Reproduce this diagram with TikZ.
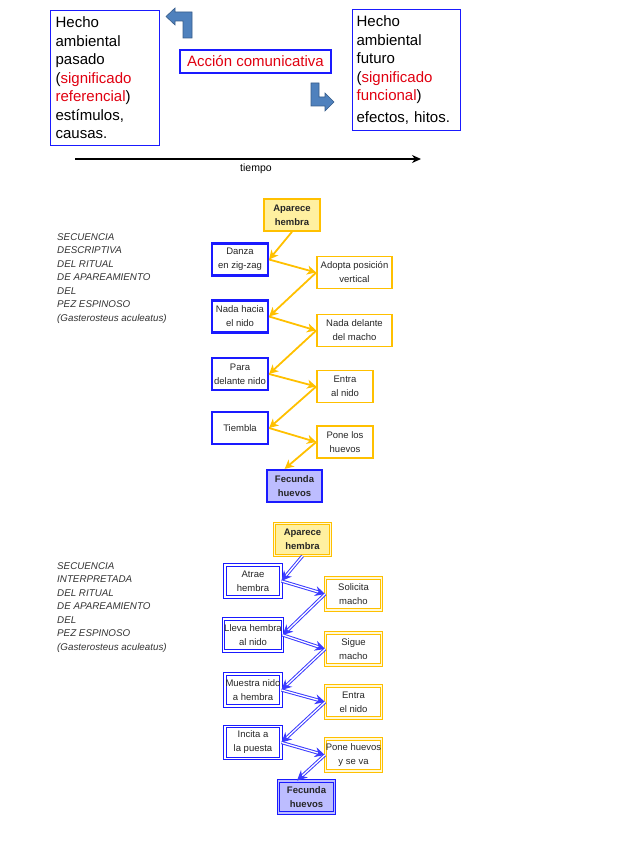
\documentclass[tikz,border=0pt]{standalone}
\usepackage{fontspec}
\setmainfont{Liberation Sans}
\usetikzlibrary{arrows.meta}
\definecolor{boxblue}{HTML}{1A1AFF}
\definecolor{gold}{HTML}{FFC000}
\definecolor{pale}{HTML}{FFF0A0}
\definecolor{lila}{HTML}{BDBDFF}
\definecolor{rojo}{HTML}{E00010}
\definecolor{flecha}{HTML}{4F81BD}
\definecolor{flechaborde}{HTML}{385D8A}
\definecolor{azulflecha}{HTML}{3A3AFF}
\tikzset{
  hecho/.style={draw=boxblue, line width=1.2pt, anchor=north west, align=left, inner xsep=4.5pt, text width=99pt, font=\fontsize{15}{18.5}\selectfont},
  base/.style={minimum height=32pt, inner sep=0.5pt, align=center, text=black!85, font=\fontsize{9.5}{14}\selectfont},
  macho/.style={base, draw=boxblue, line width=2.2pt, fill=white, minimum width=56pt},
  hembra/.style={base, draw=gold, line width=1.6pt, fill=white, minimum width=56pt},
  inicio/.style={hembra, fill=pale, font=\fontsize{9.5}{14}\selectfont\bfseries},
  final/.style={macho, fill=lila, font=\fontsize{9.5}{14}\selectfont\bfseries},
  doble/.style={double=#1, double distance=1.3pt, line width=0.9pt},
  titulo/.style={anchor=north west, inner sep=0pt, align=left, text=black!80, font=\fontsize{9.8}{13.5}\selectfont\itshape},
}
\begin{document}
\begin{tikzpicture}[x=1pt, y=-1pt]
\useasboundingbox (0,0) rectangle (636,848);

\node[hecho, minimum width=109pt, minimum height=135pt] (pasado) at (50,10)
  {Hecho\\ambiental\\pasado\\(\textcolor{rojo}{significado}\\\textcolor{rojo}{referencial})\\estímulos,\\causas.};
\node[hecho, minimum width=108pt, minimum height=121pt, inner xsep=4pt, text width=100pt] (futuro) at (352,9)
  {Hecho\\ambiental\\futuro\\(\textcolor{rojo}{significado}\\\textcolor{rojo}{funcional})\\[3pt]efectos, hitos.};
\node[draw=boxblue, line width=2.4pt, minimum width=151pt, minimum height=23pt, inner sep=0pt, text=rojo, font=\fontsize{15}{18}\selectfont] (accion) at (255.5,61.5) {Acción comunicativa};

\fill[flecha, draw=flechaborde, line width=0.6pt] (166,16.5) -- (175,8) -- (175,12) -- (192,12) -- (192,38) -- (183,38) -- (183,21) -- (175,21) -- (175,25) -- cycle;
\fill[flecha, draw=flechaborde, line width=0.6pt] (311,83) -- (319,83) -- (319,97) -- (325,97) -- (325,93) -- (334,102) -- (325,111) -- (325,106) -- (311,106) -- cycle;

\coordinate (t0) at (75,159);
\coordinate (t1) at (421,159);
\draw[line width=2pt, -{Stealth[length=9pt, width=8pt]}] (t0) -- (t1);
\node[font=\fontsize{10.5}{12}\selectfont] (tiempo) at (256,169) {tiempo};

\node[titulo] (sec1) at (57,233) {SECUENCIA\\DESCRIPTIVA\\DEL RITUAL\\DE APAREAMIENTO\\DEL\\PEZ ESPINOSO\\(Gasterosteus aculeatus)};

\node[inicio] (ap1) at (292,215) {Aparece\\hembra};
\node[macho] (d1) at (240,259.5) {Danza\\en zig-zag};
\node[macho] (d2) at (240,316.5) {Nada hacia\\el nido};
\node[macho] (d3) at (240,374) {Para\\delante nido};
\node[macho] (d4) at (240,428) {Tiembla};
\node[hembra, minimum width=75pt] (h1) at (354.5,272.5) {Adopta posición\\vertical};
\node[hembra, minimum width=75pt] (h2) at (354.5,330.5) {Nada delante\\del macho};
\node[hembra] (h3) at (345,386.5) {Entra\\al nido};
\node[hembra] (h4) at (345,442) {Pone los\\huevos};
\node[final, minimum width=55pt] (f1) at (294.5,486) {Fecunda\\huevos};

\path[every edge/.style={draw=gold, line width=1.8pt, -{Stealth[length=9pt, width=9pt, inset=2.5pt]}}]
(ap1.south) edge (d1.east)
(d1.east) edge (h1.west)
(h1.west) edge (d2.east)
(d2.east) edge (h2.west)
(h2.west) edge (d3.east)
(d3.east) edge (h3.west)
(h3.west) edge (d4.east)
(d4.east) edge (h4.west)
(h4.west) edge (f1.120);

\node[titulo] (sec2) at (57,562) {SECUENCIA\\INTERPRETADA\\DEL RITUAL\\DE APAREAMIENTO\\DEL\\PEZ ESPINOSO\\(Gasterosteus aculeatus)};

\node[inicio, doble=pale!40] (ap2) at (302.5,539.5) {Aparece\\hembra};
\node[macho, doble=white] (a1) at (253,581) {Atrae\\hembra};
\node[macho, doble=white] (a2) at (253,635) {Lleva hembra\\al nido};
\node[macho, doble=white] (a3) at (253,690) {Muestra nido\\a hembra};
\node[macho, doble=white] (a4) at (253,742.5) {Incita a\\la puesta};
\node[hembra, doble=pale!40] (s1) at (353.5,594) {Solicita\\macho};
\node[hembra, doble=pale!40] (s2) at (353.5,649) {Sigue\\macho};
\node[hembra, doble=pale!40] (s3) at (353.5,702) {Entra\\el nido};
\node[hembra, doble=pale!40] (s4) at (353.5,755) {Pone huevos\\y se va};
\node[final, doble=lila] (f2) at (306.5,797) {Fecunda\\huevos};

\path[every edge/.style={draw=azulflecha, double=white, double distance=1.3pt, line width=1pt, -{Stealth[length=10pt, width=10pt]}}]
(ap2.south) edge (a1.east)
(a1.east) edge (s1.west)
(s1.west) edge (a2.east)
(a2.east) edge (s2.west)
(s2.west) edge (a3.east)
(a3.east) edge (s3.west)
(s3.west) edge (a4.east)
(a4.east) edge (s4.west)
(s4.west) edge (f2.120);
\end{tikzpicture}
\end{document}
